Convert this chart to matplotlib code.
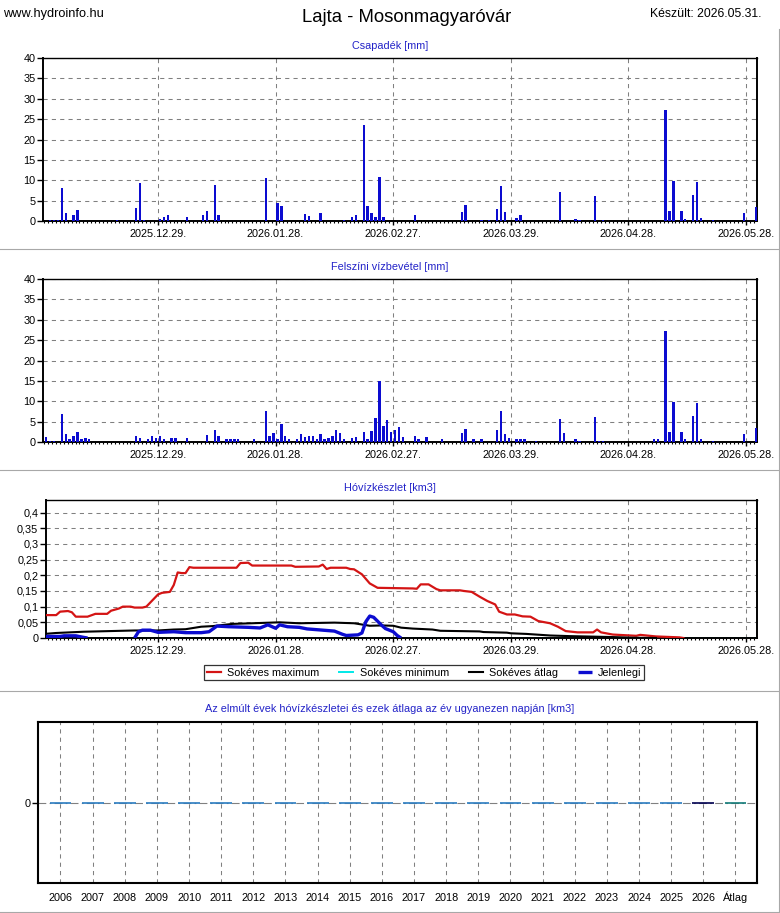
import matplotlib
matplotlib.use("Agg")
import matplotlib.pyplot as plt
import matplotlib.dates as mdates
from matplotlib.lines import Line2D
import pandas as pd

plt.rcParams['font.family'] = ['Liberation Sans', 'DejaVu Sans']

W, H = 780, 913
NaN = float('nan')

# ---- Csapadék [mm] (napi) ----
precip_dates = ["2025-12-01", "2025-12-02", "2025-12-03", "2025-12-04", "2025-12-05",
                "2025-12-07", "2025-12-08", "2025-12-18", "2025-12-23", "2025-12-24",
                "2025-12-25", "2025-12-29", "2025-12-30", "2025-12-31", "2026-01-05",
                "2026-01-09", "2026-01-10", "2026-01-12", "2026-01-13", "2026-01-25",
                "2026-01-28", "2026-01-29", "2026-02-04", "2026-02-05", "2026-02-08",
                "2026-02-14", "2026-02-16", "2026-02-17", "2026-02-19", "2026-02-20",
                "2026-02-21", "2026-02-22", "2026-02-23", "2026-02-24", "2026-03-04",
                "2026-03-16", "2026-03-17", "2026-03-21", "2026-03-23", "2026-03-25",
                "2026-03-26", "2026-03-27", "2026-03-30", "2026-03-31", "2026-04-10",
                "2026-04-14", "2026-04-15", "2026-04-19", "2026-04-21", "2026-05-07",
                "2026-05-08", "2026-05-09", "2026-05-11", "2026-05-12", "2026-05-14",
                "2026-05-15", "2026-05-16", "2026-05-19", "2026-05-27", "2026-05-30"]
precip_values = [0.2, 0.2, 0.2, 8.1, 2.0,
                 1.5, 2.7, 0.2, 3.2, 9.3,
                 0.2, 0.4, 1.0, 1.5, 1.0,
                 1.5, 2.5, 8.9, 1.5, 10.6,
                 4.4, 3.7, 1.7, 1.2, 2.0,
                 0.2, 1.0, 1.5, 23.6, 3.7,
                 2.0, 1.0, 10.8, 1.0, 1.5,
                 2.2, 3.9, 0.2, 0.2, 3.0,
                 8.6, 2.2, 0.8, 1.4, 7.1,
                 0.5, 0.2, 6.1, 0.2, 27.3,
                 2.5, 9.8, 2.5, 0.5, 6.4,
                 9.6, 0.8, 0.2, 2.0, 3.4]

# ---- Felszíni vízbevétel [mm] (napi) ----
runoff_dates = ["2025-11-30", "2025-12-01", "2025-12-02", "2025-12-04", "2025-12-05",
                "2025-12-06", "2025-12-07", "2025-12-08", "2025-12-09", "2025-12-10",
                "2025-12-11", "2025-12-23", "2025-12-24", "2025-12-26", "2025-12-27",
                "2025-12-28", "2025-12-29", "2025-12-30", "2026-01-01", "2026-01-02",
                "2026-01-05", "2026-01-10", "2026-01-12", "2026-01-13", "2026-01-15",
                "2026-01-16", "2026-01-17", "2026-01-18", "2026-01-22", "2026-01-25",
                "2026-01-26", "2026-01-27", "2026-01-28", "2026-01-29", "2026-01-30",
                "2026-01-31", "2026-02-02", "2026-02-03", "2026-02-04", "2026-02-05",
                "2026-02-06", "2026-02-07", "2026-02-08", "2026-02-09", "2026-02-10",
                "2026-02-11", "2026-02-12", "2026-02-13", "2026-02-14", "2026-02-16",
                "2026-02-17", "2026-02-19", "2026-02-20", "2026-02-21", "2026-02-22",
                "2026-02-23", "2026-02-24", "2026-02-25", "2026-02-26", "2026-02-27",
                "2026-02-28", "2026-03-01", "2026-03-04", "2026-03-05", "2026-03-07",
                "2026-03-11", "2026-03-16", "2026-03-17", "2026-03-19", "2026-03-21",
                "2026-03-25", "2026-03-26", "2026-03-27", "2026-03-28", "2026-03-30",
                "2026-03-31", "2026-04-01", "2026-04-04", "2026-04-10", "2026-04-11",
                "2026-04-14", "2026-04-15", "2026-04-19", "2026-04-20", "2026-04-21",
                "2026-05-04", "2026-05-05", "2026-05-07", "2026-05-08", "2026-05-09",
                "2026-05-11", "2026-05-12", "2026-05-14", "2026-05-15", "2026-05-16",
                "2026-05-19", "2026-05-27", "2026-05-30"]
runoff_values = [1.2, 0.2, 0.2, 6.9, 2.0,
                 0.7, 1.5, 2.5, 0.7, 1.0,
                 0.7, 1.5, 1.0, 0.7, 1.5,
                 1.0, 1.5, 0.7, 1.0, 1.0,
                 1.0, 1.7, 3.0, 1.5, 0.7,
                 0.7, 0.7, 0.7, 0.7, 7.6,
                 1.5, 2.2, 0.7, 4.4, 1.5,
                 0.7, 0.7, 2.0, 1.2, 1.5,
                 1.5, 0.7, 2.0, 0.7, 1.0,
                 1.5, 3.0, 2.3, 0.7, 1.0,
                 1.3, 2.5, 0.7, 2.8, 5.9,
                 15.0, 3.9, 5.4, 2.5, 3.0,
                 3.7, 1.2, 1.5, 0.7, 1.2,
                 0.7, 2.2, 3.1, 0.7, 0.7,
                 2.9, 7.6, 2.0, 0.9, 0.8,
                 0.7, 0.7, 0.2, 5.7, 2.2,
                 0.7, 0.2, 6.1, 0.2, 0.2,
                 0.8, 0.8, 27.3, 2.4, 9.8,
                 2.4, 0.7, 6.4, 9.6, 0.8,
                 0.2, 2.0, 3.4]

# ---- Hóvízkészlet [km3] ----
snow_max_dates = ["2025-11-30", "2025-12-03", "2025-12-04", "2025-12-06", "2025-12-07",
                  "2025-12-08", "2025-12-11", "2025-12-13", "2025-12-16", "2025-12-17",
                  "2025-12-19", "2025-12-20", "2025-12-22", "2025-12-23", "2025-12-25",
                  "2025-12-26", "2025-12-28", "2025-12-29", "2025-12-30", "2026-01-01",
                  "2026-01-02", "2026-01-03", "2026-01-04", "2026-01-05", "2026-01-06",
                  "2026-01-07", "2026-01-18", "2026-01-19", "2026-01-21", "2026-01-22",
                  "2026-02-01", "2026-02-02", "2026-02-08", "2026-02-09", "2026-02-10",
                  "2026-02-11", "2026-02-15", "2026-02-16", "2026-02-17", "2026-02-19",
                  "2026-02-21", "2026-02-23", "2026-03-04", "2026-03-05", "2026-03-06",
                  "2026-03-08", "2026-03-10", "2026-03-11", "2026-03-16", "2026-03-17",
                  "2026-03-19", "2026-03-21", "2026-03-23", "2026-03-25", "2026-03-26",
                  "2026-03-28", "2026-03-30", "2026-04-01", "2026-04-03", "2026-04-05",
                  "2026-04-08", "2026-04-10", "2026-04-12", "2026-04-15", "2026-04-19",
                  "2026-04-20", "2026-04-21", "2026-04-24", "2026-04-30", "2026-05-01",
                  "2026-05-05", "2026-05-11", "2026-05-12"]
snow_max_values = [0.073, 0.073, 0.084, 0.086, 0.082,
                   0.068, 0.068, 0.077, 0.077, 0.087,
                   0.094, 0.100, 0.100, 0.097, 0.097,
                   0.100, 0.126, 0.139, 0.144, 0.147,
                   0.169, 0.209, 0.207, 0.207, 0.226,
                   0.224, 0.224, 0.239, 0.240, 0.231,
                   0.231, 0.227, 0.228, 0.234, 0.220,
                   0.224, 0.224, 0.220, 0.219, 0.203,
                   0.174, 0.160, 0.158, 0.157, 0.171,
                   0.171, 0.156, 0.152, 0.152, 0.150,
                   0.147, 0.132, 0.118, 0.107, 0.084,
                   0.075, 0.075, 0.069, 0.068, 0.054,
                   0.047, 0.036, 0.022, 0.018, 0.018,
                   0.027, 0.018, 0.011, 0.007, 0.010,
                   0.005, 0.002, 0.0]

snow_min_dates = ["2025-11-30", "2026-05-31"]
snow_min_values = [0.0, 0.0]

snow_avg_dates = ["2025-11-30", "2025-12-03", "2025-12-10", "2025-12-23", "2025-12-29",
                  "2026-01-02", "2026-01-05", "2026-01-09", "2026-01-12", "2026-01-17",
                  "2026-01-22", "2026-01-29", "2026-02-03", "2026-02-12", "2026-02-17",
                  "2026-02-21", "2026-02-24", "2026-02-27", "2026-03-01", "2026-03-04",
                  "2026-03-09", "2026-03-11", "2026-03-21", "2026-03-22", "2026-03-28",
                  "2026-03-29", "2026-04-02", "2026-04-08", "2026-04-13", "2026-04-24",
                  "2026-04-29", "2026-05-05"]
snow_avg_values = [0.013, 0.016, 0.020, 0.024, 0.024,
                   0.027, 0.028, 0.036, 0.038, 0.045,
                   0.047, 0.050, 0.047, 0.049, 0.047,
                   0.039, 0.040, 0.039, 0.033, 0.030,
                   0.027, 0.023, 0.021, 0.019, 0.017,
                   0.015, 0.013, 0.008, 0.006, 0.003,
                   0.001, 0.0]

# NaN = no snow recorded on those days (line not drawn)
snow_now_dates = ["2025-11-30", "2025-12-04", "2025-12-05", "2025-12-08", "2025-12-10",
                  "2025-12-11", "2025-12-17", "2025-12-23", "2025-12-24", "2025-12-25",
                  "2025-12-27", "2025-12-29", "2026-01-02", "2026-01-05", "2026-01-09",
                  "2026-01-11", "2026-01-13", "2026-01-16", "2026-01-21", "2026-01-24",
                  "2026-01-26", "2026-01-28", "2026-01-29", "2026-01-31", "2026-02-03",
                  "2026-02-05", "2026-02-09", "2026-02-12", "2026-02-14", "2026-02-15",
                  "2026-02-18", "2026-02-19", "2026-02-20", "2026-02-21", "2026-02-22",
                  "2026-02-24", "2026-02-25", "2026-02-27", "2026-02-28", "2026-03-01"]
snow_now_values = [0.005, 0.005, 0.007, 0.007, 0.002,
                   0.0, NaN, 0.0, 0.020, 0.025,
                   0.025, 0.018, 0.020, 0.017, 0.017,
                   0.020, 0.038, 0.036, 0.034, 0.032,
                   0.042, 0.031, 0.042, 0.036, 0.034,
                   0.029, 0.025, 0.022, 0.012, 0.008,
                   0.010, 0.016, 0.052, 0.070, 0.066,
                   0.041, 0.030, 0.020, 0.008, 0.0]

# ---- Az elmúlt évek hóvízkészletei ----
year_labels = ["2006", "2007", "2008", "2009", "2010", "2011", "2012", "2013", "2014",
               "2015", "2016", "2017", "2018", "2019", "2020", "2021", "2022", "2023",
               "2024", "2025", "2026", "Átlag"]
year_values = [0, 0, 0, 0, 0, 0, 0, 0, 0, 0, 0, 0, 0, 0, 0, 0, 0, 0, 0, 0, 0, 0]

tick_dates = ["2025-12-29", "2026-01-28", "2026-02-27", "2026-03-29", "2026-04-28", "2026-05-28"]

BLUE = '#0c0cd0'
TITLE_BLUE = '#2222c8'
GRID = dict(color='#808080', linestyle=(0, (4, 4)), linewidth=0.75)
FS = 7.8


def fig_rect(left, top, right, bottom):
    return [left / W, 1 - bottom / H, (right - left) / W, (bottom - top) / H]


def style_time_axis(ax, x_left):
    ticks = pd.to_datetime(tick_dates)
    ax.set_xlim(ticks[0] - pd.Timedelta(days=x_left), ticks[0] + pd.Timedelta(days=152.8))
    ax.set_xticks(ticks)
    ax.set_xticklabels([t.strftime('%Y.%m.%d.') for t in ticks], fontsize=FS)
    ax.xaxis.set_minor_locator(mdates.DayLocator())
    ax.tick_params(axis='x', which='major', length=3, width=1, pad=3)
    ax.tick_params(axis='x', which='minor', length=1.6, width=0.8)
    ax.tick_params(axis='y', length=4, width=1, pad=1.5, labelsize=FS)
    ax.grid(True, which='major', **GRID)
    ax.set_axisbelow(True)
    for sp in ax.spines.values():
        sp.set_linewidth(1.4)
    ax.spines['top'].set_linewidth(1.0)


def bar_panel(rect, title, title_y, dates, values):
    ax = fig.add_axes(rect)
    x = pd.to_datetime(dates) + pd.Timedelta(hours=12)
    ax.bar(x, values, width=0.6, color=BLUE, zorder=3)
    ax.set_ylim(0, 40)
    ax.set_yticks(range(0, 41, 5))
    style_time_axis(ax, 29.3)
    fig.text(390 / W, 1 - title_y / H, title, color=TITLE_BLUE, fontsize=FS,
             ha='center', va='center')
    return ax


fig = plt.figure(figsize=(W / 100, H / 100), dpi=100)

# header
fig.text(3 / W, 1 - 14 / H, 'www.hydroinfo.hu', fontsize=9.2, ha='left', va='center')
fig.text(407 / W, 1 - 17 / H, 'Lajta - Mosonmagyaróvár', fontsize=13.3, ha='center', va='center')
fig.text(762 / W, 1 - 14 / H, 'Készült: 2026.05.31.', fontsize=8.8, ha='right', va='center')

bar_panel(fig_rect(43, 58, 757, 221), 'Csapadék [mm]', 46, precip_dates, precip_values)
bar_panel(fig_rect(43, 279, 757, 442), 'Felszíni vízbevétel [mm]', 267, runoff_dates, runoff_values)

# snow water panel
ax3 = fig.add_axes(fig_rect(46, 500, 757, 638))
ax3.plot(pd.to_datetime(snow_min_dates), snow_min_values, color='#00e8e8', lw=1.4,
         label='Sokéves minimum', zorder=2)
ax3.plot(pd.to_datetime(snow_max_dates), snow_max_values, color='#d41414', lw=1.6,
         label='Sokéves maximum', zorder=3)
ax3.plot(pd.to_datetime(snow_avg_dates), snow_avg_values, color='black', lw=1.5,
         label='Sokéves átlag', zorder=3)
ax3.plot(pd.to_datetime(snow_now_dates), snow_now_values, color=BLUE, lw=2.4,
         label='Jelenlegi', zorder=4, solid_capstyle='butt')
ax3.set_ylim(0, 0.44)
yt = [0, 0.05, 0.1, 0.15, 0.2, 0.25, 0.3, 0.35, 0.4]
ax3.set_yticks(yt)
ax3.set_yticklabels([('%g' % v).replace('.', ',') for v in yt])
style_time_axis(ax3, 28.6)
fig.text(390 / W, 1 - 488 / H, 'Hóvízkészlet [km3]', color=TITLE_BLUE, fontsize=FS,
         ha='center', va='center')
h, l = ax3.get_legend_handles_labels()
order = [1, 0, 2, 3]
leg = ax3.legend([h[i] for i in order], [l[i] for i in order], loc='center',
                 bbox_to_anchor=(0.532, -0.25), ncol=4, fontsize=FS, frameon=True,
                 fancybox=False, edgecolor='black', handlelength=1.3, handletextpad=0.6,
                 columnspacing=1.8, borderpad=0.25, borderaxespad=0)
leg.get_frame().set_linewidth(0.9)

# past years panel
ax4 = fig.add_axes(fig_rect(38, 722, 757, 883))
idx = list(range(len(year_labels)))
bar_colors = ['#2a7cc0' if lab not in ('2026', 'Átlag') else ('#000050' if lab == '2026' else '#127a78')
              for lab in year_labels]
ax4.axhline(0, color='#808080', lw=0.8, linestyle=(0, (7, 3, 1.5, 3)), zorder=1)
ax4.hlines(year_values, [i - 0.34 for i in idx], [i + 0.34 for i in idx], colors=bar_colors,
           lw=1.2, zorder=3)
ax4.set_xlim(-0.7, 21.67)
ax4.set_ylim(-1, 1)
ax4.set_xticks(idx)
ax4.set_xticklabels(year_labels, fontsize=FS, va='baseline')
ax4.set_yticks([0])
ax4.set_yticklabels(['0'], fontsize=FS)
ax4.tick_params(axis='x', length=0, pad=13)
ax4.tick_params(axis='y', length=4, width=1, pad=1.5)
ax4.grid(True, axis='x', **GRID)
ax4.set_axisbelow(True)
for sp in ax4.spines.values():
    sp.set_linewidth(1.5)
fig.text(390 / W, 1 - 709 / H,
         'Az elmúlt évek hóvízkészletei és ezek átlaga az év ugyanezen napján [km3]',
         color=TITLE_BLUE, fontsize=FS, ha='center', va='center')

# gray panel frames
for yy in (249.5, 470.5, 691.5, 911.5):
    fig.add_artist(Line2D([0, 778.5 / W], [1 - yy / H, 1 - yy / H], transform=fig.transFigure,
                          color='#a8a8a8', lw=0.8))
fig.add_artist(Line2D([778.5 / W, 778.5 / W], [1 - 29 / H, 1 - 911.5 / H],
                      transform=fig.transFigure, color='#a8a8a8', lw=0.8))

fig.savefig('out.png', dpi=100)
